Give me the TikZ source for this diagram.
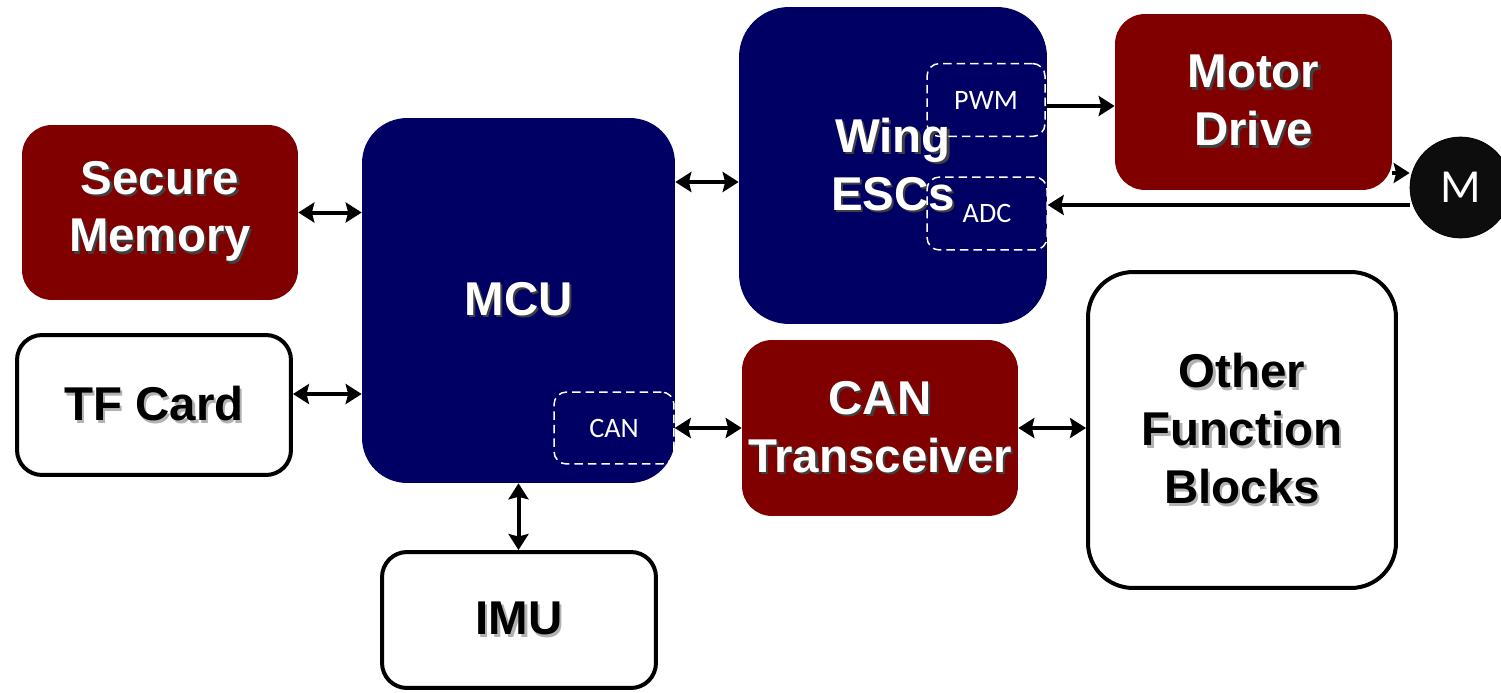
\documentclass[tikz,border=0pt]{standalone}
\usepackage{fontspec}
\setmainfont{Liberation Sans}
\newfontfamily\portfont{Carlito}
\usetikzlibrary{arrows.meta}
\definecolor{blockred}{RGB}{128,0,0}
\definecolor{blockblue}{RGB}{0,0,100}
% text with a small drop shadow
\newcommand{\shtext}[2][black!75]{\makebox[0pt][l]{\hspace{1.3pt}\raisebox{-1.3pt}{\color{#1}#2}}#2}
\tikzset{
  blocktext/.style={font=\fontsize{27}{33}\selectfont\bfseries, align=center, inner sep=2pt},
  redblock/.style={blocktext, fill=blockred, text=white, rounded corners=0.6cm},
  blueblock/.style={blocktext, fill=blockblue, text=white, rounded corners=0.9cm},
  whiteblock/.style={blocktext, draw=black, line width=0.08cm, fill=white, text=black, rounded corners=0.5cm},
  portbox/.style={draw=white, dash pattern=on 0.17cm off 0.1cm, line width=0.03cm, rounded corners=0.25cm,
    text=white, font=\portfont\fontsize{16}{19}\selectfont},
  tip/.tip={Stealth[length=0.32cm, width=0.4cm, inset=0.05cm]},
  link/.style={line width=0.08cm, -tip},
  dlink/.style={line width=0.08cm, tip-tip},
}
\begin{document}
\begin{tikzpicture}[x=0.02cm,y=-0.02cm]
\useasboundingbox (0,0) rectangle (1501,693);
% blocks
\node[redblock, minimum width=5.52cm, minimum height=3.5cm] (mem) at (160,212.5) {\shtext{Secure}\\\shtext{Memory}};
\node[whiteblock, minimum width=5.48cm, minimum height=2.8cm] (tf) at (154,405) {\shtext[black!30]{TF Card}};
\node[blueblock, minimum width=6.26cm, minimum height=7.3cm] (mcu) at (518.5,300.5) {\shtext{MCU}};
\node[whiteblock, minimum width=5.48cm, minimum height=2.72cm] (imu) at (519,620) {\shtext[black!30]{IMU}};
\node[blueblock, rounded corners=1cm, minimum width=6.16cm, minimum height=6.34cm] (esc) at (893,165.5) {\shtext{Wing}\\\shtext{ESCs}};
\node[redblock, minimum width=5.54cm, minimum height=3.52cm] (motor) at (1253.5,102) {\shtext{Motor}\\\shtext{Drive}};
\node[redblock, minimum width=5.52cm, minimum height=3.52cm] (cant) at (880,428) {\shtext{CAN}\\\shtext{Transceiver}};
\node[whiteblock, rounded corners=0.9cm, minimum width=6.16cm, minimum height=6.32cm] (other) at (1242,430) {\shtext[black!30]{Other}\\\shtext[black!30]{Function}\\\shtext[black!30]{Blocks}};
\node[circle, fill=black!95, draw=black, minimum size=2.02cm, inner sep=0pt, text=white,
  font=\portfont\fontsize{27}{30}\selectfont] (m) at (1460.5,187.5) {M};
% ports
\node[portbox, minimum width=2.4cm, minimum height=1.44cm] (can) at (614,428) {CAN};
\node[portbox, minimum width=2.36cm, minimum height=1.46cm] (pwm) at (986,100) {PWM};
\node[portbox, minimum width=2.4cm, minimum height=1.46cm] (adc) at (987,213.5) {ADC};
% connections
\draw[dlink] (mem.east) -- (mem.east -| mcu.west);
\draw[dlink] ([yshift=0.22cm]tf.east) -- ([yshift=0.22cm]tf.east -| mcu.west);
\draw[dlink] ([yshift=-0.33cm]esc.west) -- ([yshift=-0.33cm]esc.west -| mcu.east);
\draw[dlink] (mcu.south) -- (mcu.south |- imu.north);
\draw[dlink] (can.east) -- (can.east -| cant.west);
\draw[dlink] (cant.east) -- (cant.east -| other.west);
\draw[link] ([yshift=-0.12cm]pwm.east) -- ([yshift=-0.12cm]pwm.east -| motor.west);
\draw[link] ([yshift=-1.42cm]motor.east) -- ([yshift=-1.42cm]motor.east -| m.west);
\draw[link] ([yshift=-0.35cm]m.west) -- ([yshift=-0.35cm]m.west -| adc.east);
\end{tikzpicture}
\end{document}
